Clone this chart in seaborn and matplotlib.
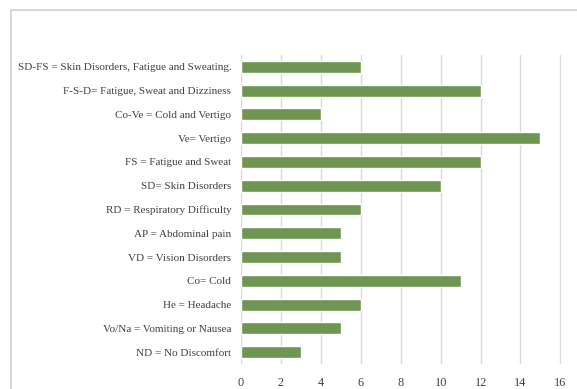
import matplotlib
matplotlib.use("Agg")
import matplotlib.pyplot as plt
from matplotlib.lines import Line2D
import seaborn as sns
import pandas as pd

categories = [
    "SD-FS = Skin Disorders, Fatigue and Sweating.",
    "F-S-D= Fatigue, Sweat and Dizziness",
    "Co-Ve = Cold and Vertigo",
    "Ve= Vertigo",
    "FS = Fatigue and Sweat",
    "SD= Skin Disorders",
    "RD = Respiratory Difficulty",
    "AP = Abdominal pain",
    "VD = Vision Disorders",
    "Co= Cold",
    "He = Headache",
    "Vo/Na = Vomiting or Nausea",
    "ND = No Discomfort",
]
counts = [6, 12, 4, 15, 12, 10, 6, 5, 5, 11, 6, 5, 3]
x_ticks = [0, 2, 4, 6, 8, 10, 12, 14, 16]

df = pd.DataFrame({"symptom": categories, "count": counts})

sns.set_theme(style="white")
plt.rcParams["font.family"] = ["Liberation Serif", "DejaVu Serif"]

fig = plt.figure(figsize=(5.77, 3.89), dpi=100)
ax = fig.add_axes([241 / 577, 1 - 364 / 389, 320 / 577, 309 / 389])

sns.barplot(data=df, x="count", y="symptom", orient="h", color="#6E9552",
            saturation=1, width=0.5, ax=ax, zorder=3)

ax.set_xlim(0, 16.03)
ax.set_xticks(x_ticks)
ax.set_xticklabels([str(t) for t in x_ticks])
ax.set_xlabel("")
ax.set_ylabel("")
ax.grid(axis="x", color="#D9D9D9", linewidth=1, zorder=0)
ax.grid(axis="y", visible=False)
for s in ax.spines.values():
    s.set_visible(False)
ax.tick_params(axis="both", length=0, colors="#404040")
ax.tick_params(axis="y", labelsize=8.0, pad=7)
ax.tick_params(axis="x", labelsize=8.8, pad=9)

# Outer chart-area frame (top and left edges)
fig.add_artist(Line2D([10.5 / 577, 1], [1 - 9.5 / 389, 1 - 9.5 / 389],
                      transform=fig.transFigure, color="#D0D0D0", linewidth=1.2))
fig.add_artist(Line2D([10.5 / 577, 10.5 / 577], [0, 1 - 9.5 / 389],
                      transform=fig.transFigure, color="#D0D0D0", linewidth=1.2))

fig.savefig("out.png", dpi=100, facecolor="white")
